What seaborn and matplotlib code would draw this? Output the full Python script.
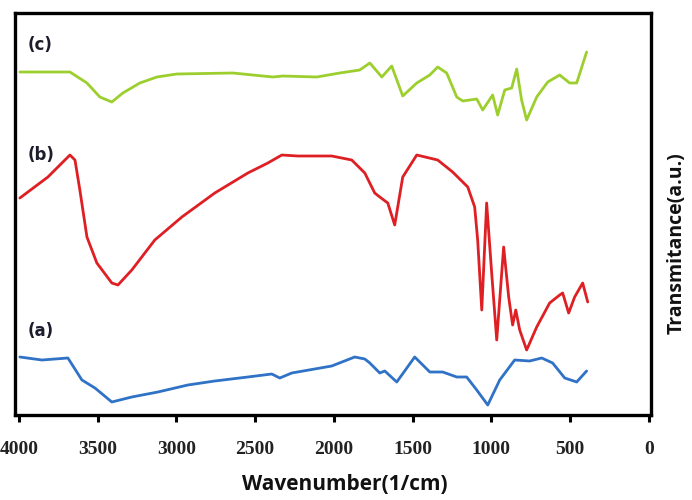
import matplotlib
matplotlib.use("Agg")
import matplotlib.pyplot as plt
import seaborn as sns
import pandas as pd

# ---- data (wavenumber in 1/cm, transmittance in arbitrary units) ----
wn_c = [3994, 3676, 3568, 3486, 3410, 3340, 3232, 3124, 2997, 2641, 2387, 2324, 2108,
        1962, 1835, 1771, 1695, 1632, 1562, 1473, 1390, 1340, 1283, 1219, 1181, 1092,
        1054, 991, 959, 914, 870, 838, 807, 775, 711, 641, 565, 502, 457, 394]
t_c = [343, 343, 332, 318, 313, 322, 332, 338, 341, 342, 338, 339, 338,
       342, 345, 352, 338, 349, 319, 332, 340, 348, 342, 318, 314, 316,
       305, 320, 300, 325, 327, 346, 315, 295, 318, 333, 340, 332, 332, 363]

wn_b = [3994, 3816, 3676, 3644, 3613, 3568, 3505, 3410, 3371, 3283, 3137, 2965, 2756,
        2546, 2419, 2330, 2229, 2013, 1886, 1803, 1740, 1708, 1657, 1613, 1562, 1473,
        1340, 1245, 1149, 1105, 1086, 1060, 1029, 997, 965, 921, 889, 864, 844, 819,
        775, 711, 629, 565, 546, 508, 470, 419, 387]
t_b = [217, 238, 260, 255, 225, 178, 152, 132, 130, 145, 175, 198, 222,
       242, 252, 260, 259, 259, 255, 242, 222, 218, 212, 190, 238, 260,
       255, 243, 228, 208, 175, 105, 212, 142, 75, 168, 118, 90, 105, 85,
       65, 88, 112, 120, 122, 102, 118, 132, 113]

wn_a = [3994, 3854, 3689, 3600, 3517, 3410, 3283, 3117, 2927, 2756, 2546, 2394, 2343,
        2267, 2013, 1867, 1803, 1771, 1708, 1676, 1600, 1486, 1390, 1308, 1219, 1156,
        1092, 1022, 946, 851, 756, 679, 610, 533, 457, 394]
t_a = [58, 55, 57, 35, 27, 13, 18, 23, 30, 34, 38, 41, 37,
       42, 49, 58, 56, 52, 42, 44, 33, 58, 43, 43, 38, 38,
       25, 10, 35, 55, 54, 57, 52, 37, 33, 44]

series_labels = ["(c)", "(b)", "(a)"]
tick_values = [4000, 3500, 3000, 2500, 2000, 1500, 1000, 500, 0]
x_label = "Wavenumber(1/cm)"
y_label = "Transmitance(a.u.)"

# ---- styling ----
sns.set_style("white")
plt.rcParams["font.family"] = ["DejaVu Sans"]

fig = plt.figure(figsize=(6.92, 5.00), dpi=100)
ax = fig.add_axes([15 / 692, 1 - 415 / 500, (651 - 15) / 692, (415 - 13) / 500])

colors = {"(c)": "#9ccf2e", "(b)": "#de1f24", "(a)": "#2f72c6"}
for lab, wn, t in [("(c)", wn_c, t_c), ("(b)", wn_b, t_b), ("(a)", wn_a, t_a)]:
    df = pd.DataFrame({"wn": wn, "t": t})
    sns.lineplot(data=df, x="wn", y="t", ax=ax, color=colors[lab], linewidth=2.0,
                 sort=False, estimator=None)

ax.set_xlim(4025, -15)
ax.set_ylim(0, 402)
ax.set_xticks(tick_values)
ax.set_xticklabels([str(v) for v in tick_values], family="Liberation Serif",
                   fontweight="bold", fontsize=14, color="#222222")
ax.set_yticks([])
ax.set_xlabel("")
ax.set_ylabel("")
ax.tick_params(axis="x", direction="out", length=5, width=2.2, pad=14,
               bottom=True, top=False, color="black")
for sp in ax.spines.values():
    sp.set_visible(True)
    sp.set_linewidth(2.4)
    sp.set_color("black")

label_y = {"(c)": 370, "(b)": 260, "(a)": 84}
for lab in series_labels:
    ax.text(3945, label_y[lab], lab, ha="left", va="center", fontsize=12,
            fontweight="bold", color="#1c1c2c", family="DejaVu Sans")

fig.text(345 / 692, 1 - 485 / 500, x_label, ha="center", va="center",
         fontsize=15, fontweight="bold", family="Open Sans", color="#111111")
fig.text(677 / 692, 1 - 243 / 500, y_label, ha="center", va="center",
         rotation=90, fontsize=14, fontweight="bold", family="Open Sans",
         color="#111111")

fig.savefig("out.png", dpi=100)
